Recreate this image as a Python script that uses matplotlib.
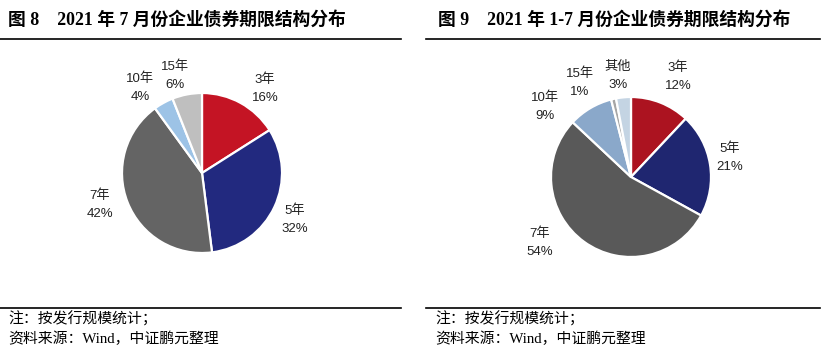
import matplotlib
matplotlib.use("Agg")
import matplotlib.pyplot as plt

# ---- data ----
left_title = "图 8    2021 年 7 月份企业债券期限结构分布"
right_title = "图 9    2021 年 1-7 月份企业债券期限结构分布"
left_cats = ["3年", "5年", "7年", "10年", "15年"]
left_vals = [16, 32, 42, 4, 6]
right_cats = ["3年", "5年", "7年", "10年", "15年", "其他"]
right_vals = [12, 21, 54, 9, 1, 3]
note_lines = ["注：按发行规模统计；", "资料来源：Wind，中证鹏元整理"]

# ---- styles / layout ----
left_colors = ["#C41424", "#22297F", "#646464", "#9DC3E6", "#BFBFBF"]
right_colors = ["#AC1320", "#1F2670", "#595959", "#8AA8CA", "#A6A6A6", "#C4D4E3"]
# label block centres in pixels (x, y from top)
left_label_px = [(265, 89), (295, 220), (100, 205), (140, 88), (175, 76)]
right_label_px = [(678, 77), (730, 158), (540, 243), (545, 107), (580, 83), (618, 76)]

W, H = 821, 352
fig = plt.figure(figsize=(W / 100, H / 100), dpi=100)

title_font = ["Liberation Serif", "Noto Sans CJK SC"]
label_font = ["Liberation Sans", "Noto Sans CJK SC"]

def px_axes(x0, y0, w, h):
    return fig.add_axes([x0 / W, 1 - (y0 + h) / H, w / W, h / H])

def draw_pie(cx, cy, cats, vals, colors, label_px):
    R = 80
    half = 120
    ax = px_axes(cx - half, cy - half, 2 * half, 2 * half)
    ax.pie(vals, colors=colors, startangle=90, counterclock=False, radius=1,
           wedgeprops=dict(edgecolor="white", linewidth=1.6))
    ax.set_xlim(-half / R, half / R)
    ax.set_ylim(-half / R, half / R)
    ax.set_aspect("equal")
    ax.axis("off")
    for c, v, (lx, ly) in zip(cats, vals, label_px):
        x = (lx - cx) / R
        y = (cy - ly) / R
        ax.text(x, y, f"{c}\n{v}%", ha="center", va="center", fontsize=9.5,
                family=label_font, linespacing=1.7, color="#222222")

draw_pie(202, 173, left_cats, left_vals, left_colors, left_label_px)
draw_pie(631, 177, right_cats, right_vals, right_colors, right_label_px)

# titles and rules
fig.text(8 / W, 1 - 20 / H, left_title, fontsize=12.8, fontweight="bold",
         family=title_font, va="center", ha="left")
fig.text(438 / W, 1 - 20 / H, right_title, fontsize=12.8, fontweight="bold",
         family=title_font, va="center", ha="left")

for (x0, x1) in [(0, 401), (426, 820)]:
    for y in (39, 308):
        fig.add_artist(plt.Line2D([x0 / W, x1 / W], [1 - y / H, 1 - y / H],
                                  color="black", linewidth=1.2))

for x0 in (8, 435):
    fig.text(x0 / W, 1 - 319 / H, note_lines[0], fontsize=10.7, family=title_font,
             va="center", ha="left")
    fig.text(x0 / W, 1 - 339 / H, note_lines[1], fontsize=10.7, family=title_font,
             va="center", ha="left")

fig.savefig("out.png", dpi=100)
